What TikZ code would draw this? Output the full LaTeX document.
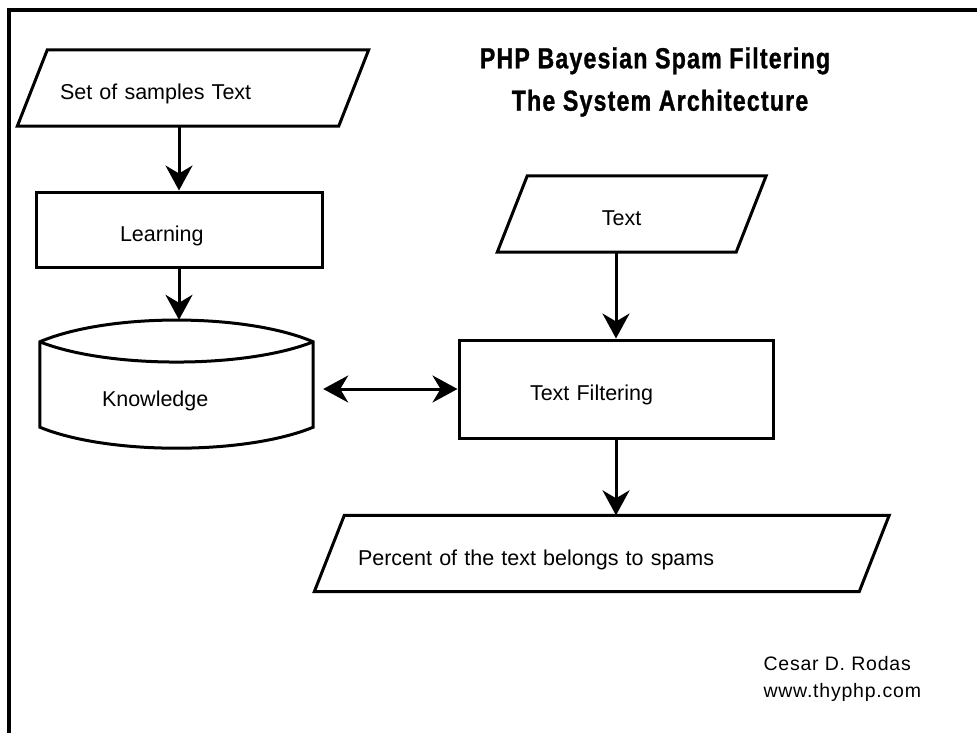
\documentclass[tikz,border=0pt]{standalone}
\usepackage{fontspec}
\setmainfont{Liberation Sans}
\newfontfamily\headfont[FakeStretch=0.8,LetterSpace=4,FakeBold=1]{Liberation Sans}
\newfontfamily\signfont[LetterSpace=4]{Liberation Sans}
\usetikzlibrary{arrows.meta,positioning}

\tikzset{
  flowline/.style={line width=3pt},
  flowarrow/.style={flowline,-{Stealth[length=25pt,width=27pt,inset=8pt]}},
  twoway/.style={flowline,{Stealth[length=25pt,width=27pt,inset=8pt]}-{Stealth[length=25pt,width=27pt,inset=8pt]}},
  txt/.style={rectangle,align=left,inner ysep=0pt,text height=27pt,text depth=4pt,
    font=\fontsize{21.5pt}{25pt}\selectfont},
  procbox/.style={txt,draw,flowline},
  iobox/.style={txt,minimum height=76pt},
  head/.style={anchor=base,inner sep=0pt,font=\headfont\bfseries\fontsize{29pt}{32pt}\selectfont},
}
% parallelogram round an input/output node
\newcommand{\slantbox}[1]{%
  \draw[flowline] ([xshift=15pt]#1.north west) -- ([xshift=15pt]#1.north east)
    -- ([xshift=-15pt]#1.south east) -- ([xshift=-15pt]#1.south west) -- cycle;}

\begin{document}
\begin{tikzpicture}[x=1pt,y=-1pt]
  \useasboundingbox (0,0) rectangle (977,733);
  % frame
  \draw[line width=3.5pt] (8.8,733) -- (8.8,10) -- (977,10);

  % title
  \node[head] (title) at (655,68.3) {PHP Bayesian Spam Filtering};
  \node[head] (subtitle) at (660,110.7) {The System Architecture};

  % learning part
  \node[iobox,inner xsep=27.5pt,text width=266pt] (samples) at (193,88) {Set of samples Text};
  \slantbox{samples}
  \node[procbox,inner xsep=84pt,text width=118pt,minimum height=75pt] (learn) at (179,229.5) {Learning};
  \node[txt,inner xsep=62pt,text width=149pt,minimum height=106pt] (know) at (176.5,395) {Knowledge};
  \draw[flowline] (know.north west) .. controls +(68pt,29pt) and +(-68pt,29pt) .. (know.north east)
    -- ([yshift=21pt]know.south east) .. controls +(-68pt,-28pt) and +(68pt,-28pt) .. ([yshift=21pt]know.south west) -- cycle;
  \draw[flowline] (know.north west) .. controls +(68pt,-27pt) and +(-68pt,-27pt) .. (know.north east);

  % filtering part
  \node[iobox,inner xsep=89.5pt,text width=59.5pt] (input) at (631.7,214) {Text};
  \slantbox{input}
  \node[procbox,inner xsep=71pt,text width=172pt,minimum height=98pt] (filter) at (616,389) {Text Filtering};
  \node[iobox,inner xsep=28.5pt,text width=487.5pt] (result) at (601.75,553.5) {Percent of the text belongs to spams};
  \slantbox{result}

  \node[anchor=west,align=left,font=\signfont\fontsize{19.5pt}{27pt}\selectfont] (author) at (760,679) {Cesar D. Rodas\\www.thyphp.com};

  % connectors
  \draw[flowarrow] (samples.south -| learn.north) -- (learn.north);
  \draw[flowarrow,shorten >=22pt] (learn.south) -- (learn.south |- know.north);
  \draw[flowarrow] (input.south -| filter.north) -- (filter.north);
  \draw[flowarrow] (filter.south) -- (filter.south |- result.north);
  \draw[twoway,shorten <=10pt] (filter.west -| know.east) -- (filter.west);
\end{tikzpicture}
\end{document}
